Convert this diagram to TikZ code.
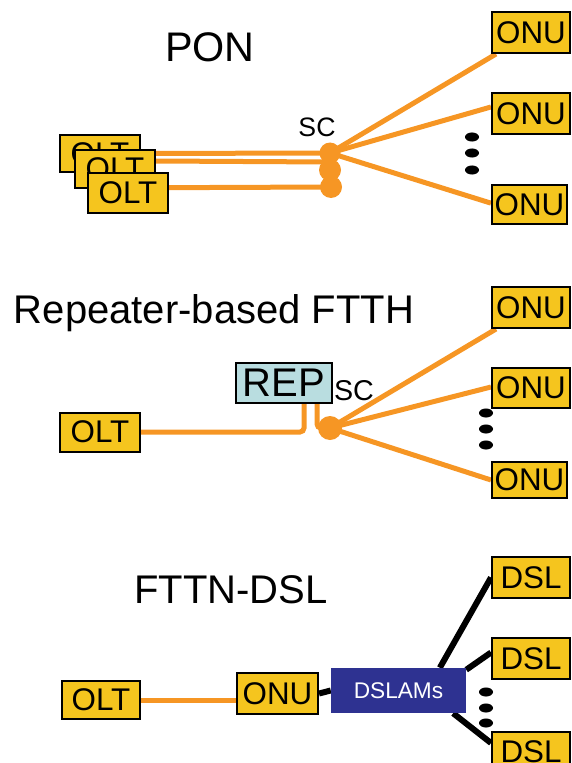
\documentclass[tikz,border=0pt]{standalone}
\usepackage{fontspec}
\setmainfont{Liberation Sans}
\usetikzlibrary{backgrounds,calc}
\definecolor{fiberorange}{RGB}{246,150,36}
\definecolor{boxyellow}{RGB}{245,197,30}
\definecolor{repcyan}{RGB}{185,221,224}
\definecolor{dslamblue}{RGB}{46,50,145}
\begin{document}
\begin{tikzpicture}[x=0.75pt,y=-0.75pt,
  ybox/.style={draw=black, line width=1.5pt, fill=boxyellow, inner sep=0pt,
    font=\fontsize{23.5}{23.5}\selectfont, minimum width=58.5pt, minimum height=30.75pt},
  fiber/.style={draw=fiberorange, line width=3.75pt},
  copper/.style={draw=black, line width=4.5pt},
  scdot/.style={circle, fill=fiberorange, inner sep=0pt, minimum size=#1},
  titletext/.style={font=\fontsize{30}{30}\selectfont, anchor=base, inner sep=0pt},
  dots/.style={fill=black}]
\useasboundingbox (0,0) rectangle (571,763);

% ---------- PON ----------
\node[titletext, font=\fontsize{31}{31}\selectfont] (pontitle) at (210,62) {PON};
\node[font=\fontsize{20}{20}\selectfont, anchor=base, inner sep=0pt] (sctop) at (317,137) {SC};
\node[scdot=15.75pt] (sc1) at (330,153) {};
\node[scdot=16.5pt] (sc2) at (330,170) {};
\node[scdot=16.5pt] (sc3) at (331,187) {};
\node[ybox] (onu1) at (531,32.5) {ONU};
\node[ybox] (onu2) at (531,113.5) {ONU};
\node[ybox, minimum width=56.25pt, minimum height=29.25pt] (onu3) at (529.5,204.5) {ONU};
\node[ybox, minimum width=60pt, minimum height=27.75pt] (olt1) at (100,153.5) {OLT};
\node[ybox, minimum width=60pt, minimum height=28.5pt] (olt2) at (115,169) {OLT};
\node[ybox, minimum width=60pt, minimum height=30pt] (olt3) at (128,193) {OLT};
\fill[dots] (472,137) ellipse [x radius=5.25pt, y radius=3.4pt];
\fill[dots] (472,153) ellipse [x radius=5.25pt, y radius=3.4pt];
\fill[dots] (472,170) ellipse [x radius=5.25pt, y radius=3.4pt];

% ---------- Repeater-based FTTH ----------
\node[titletext] (reptitle) at (214,323) {Repeater-based FTTH};
\node[ybox, fill=repcyan, minimum width=72pt, minimum height=30pt,
  font=\fontsize{30}{30}\selectfont] (rep) at (284,383) {REP};
\node[font=\fontsize{21.5}{21.5}\selectfont, anchor=base, inner sep=0pt] (scmid) at (354,400) {SC};
\node[scdot=18pt] (scm) at (330,428) {};
\node[ybox] (onu4) at (531,307.5) {ONU};
\node[ybox, minimum height=30pt] (onu5) at (531,388) {ONU};
\node[ybox, minimum width=56.25pt, minimum height=27pt] (onu6) at (529.5,480) {ONU};
\node[ybox, minimum width=60pt, minimum height=29.25pt] (oltm) at (100,432) {OLT};
\fill[dots] (486,413) ellipse [x radius=5.25pt, y radius=3.4pt];
\fill[dots] (486,429) ellipse [x radius=5.25pt, y radius=3.4pt];
\fill[dots] (486,445) ellipse [x radius=5.25pt, y radius=3.4pt];

% ---------- FTTN-DSL ----------
\node[titletext] (dsltitle) at (231,603) {FTTN-DSL};
\node[ybox, minimum width=58.5pt, minimum height=28.5pt] (oltb) at (101,700) {OLT};
\node[ybox, minimum width=60.75pt, minimum height=30.75pt] (onub) at (277.5,693.5) {ONU};
\node[fill=dslamblue, text=white, inner sep=0pt, minimum width=101.25pt, minimum height=33.75pt,
  font=\fontsize{17}{17}\selectfont] (dslam) at (398.5,690.5) {DSLAMs};
\node[ybox] (dsl1) at (531,577.5) {DSL};
\node[ybox] (dsl2) at (531,658.5) {DSL};
\node[ybox, minimum height=30pt] (dsl3) at (531,752) {DSL};
\fill[dots] (486,692) ellipse [x radius=5.25pt, y radius=3.4pt];
\fill[dots] (486,708) ellipse [x radius=5.25pt, y radius=3.4pt];
\fill[dots] (486,723) ellipse [x radius=5.25pt, y radius=3.4pt];

% ---------- connectors ----------
\begin{scope}[on background layer]
  % PON
  \draw[fiber] (olt1.east) -- (sc1.center);
  \draw[fiber] ([yshift=6pt]olt2.east) -- ([yshift=6pt]sc2.center);
  \draw[fiber] ([yshift=4pt]olt3.east) -- (sc3.center);
  \draw[fiber] (sc1.center) -- ([xshift=3.75pt]onu1.south west);
  \draw[fiber] (sc1.center) -- ([yshift=4.9pt]onu2.west);
  \draw[fiber] (sc1.center) -- ([yshift=1pt]onu3.west);
  % Repeater
  \draw[fiber, rounded corners=3pt] (oltm.east) -| ([xshift=15pt]rep.south);
  \draw[fiber, rounded corners=3pt] ([xshift=24.75pt]rep.south) |- (scm.center);
  \draw[fiber] (scm.center) -- ([xshift=3.75pt]onu4.south west);
  \draw[fiber] (scm.center) -- ([yshift=0.75pt]onu5.west);
  \draw[fiber] (scm.center) -- (onu6.west);
  % FTTN-DSL
  \draw[fiber] (oltb.east) -- (oltb.east -| onub.west);
  \draw[copper] (onub.east) -- (dslam.west);
  \draw[copper] ([xshift=31pt]dslam.north) -- (dsl1.west);
  \draw[copper] ([yshift=-1.5pt]dslam.north east) -- ([yshift=4.5pt]dsl2.west);
  \draw[copper] ([xshift=41pt]dslam.south) -- ([yshift=6.75pt]dsl3.west);
\end{scope}
\end{tikzpicture}
\end{document}
